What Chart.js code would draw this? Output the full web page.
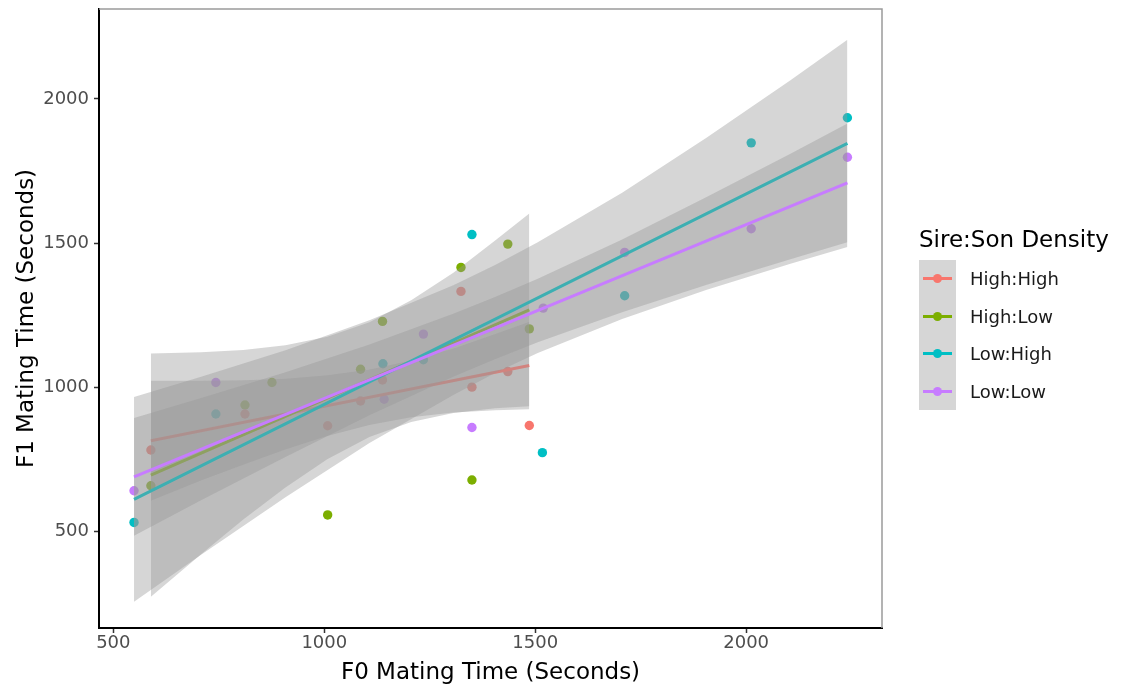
<!DOCTYPE html>
<html>
<head>
<meta charset="utf-8">
<title>F0 vs F1 mating time</title>
<script src="https://cdn.jsdelivr.net/npm/chart.js@4.4.1/dist/chart.umd.min.js"></script>
<style>
    body { margin: 0; background: #fff; font-family: "DejaVu Sans", sans-serif; }
    #wrap { position: relative; width: 1125px; height: 691px; }
    #legend { position: absolute; left: 919px; top: 226px; color: #000; }
    .ltitle { font-size: 23px; line-height: 27px; height: 27px; margin-bottom: 7px; white-space: nowrap; }
    .lrow { display: flex; align-items: center; height: 37.5px; }
    .lkey { position: relative; width: 37px; height: 37.5px; background: #d6d6d6; }
    .lline { position: absolute; left: 4px; width: 29px; top: 17.25px; height: 3px; }
    .ldot { position: absolute; left: 14px; top: 14.25px; width: 9px; height: 9px; border-radius: 50%; }
    .llabel { margin-left: 14px; font-size: 18px; color: #1a1a1a; white-space: nowrap; }
</style>
</head>
<body>
<div id="wrap">
    <canvas id="chart" width="1125" height="691"></canvas>
    <div id="legend">
        <div class="ltitle">Sire:Son Density</div>
        <div id="keys"></div>
    </div>
</div>
<script>
// groups and ggplot hue colours
const groups = ['High:High', 'High:Low', 'Low:High', 'Low:Low'];
const colors = ['#F8766D', '#7CAE00', '#00BFC4', '#C77CFF'];

const xTicks = [500, 1000, 1500, 2000];
const yTicks = [500, 1000, 1500, 2000];

// raw points
const hhX = [589, 812, 1008, 1086, 1138, 1324, 1350, 1435, 1486];
const hhY = [783, 908, 867, 953, 1026, 1333, 1001, 1055, 868];
const hlX = [589, 812, 876, 1008, 1086, 1138, 1324, 1350, 1435, 1486];
const hlY = [659, 939, 1017, 558, 1063, 1229, 1416, 679, 1497, 1203];
const lhX = [549, 743, 1139, 1235, 1350, 1517, 1712, 2012, 2240];
const lhY = [532, 908, 1082, 1096, 1530, 774, 1318, 1848, 1935];
const llX = [549, 743, 1142, 1235, 1350, 1519, 1712, 2012, 2240];
const llY = [642, 1017, 959, 1185, 861, 1275, 1468, 1550, 1798];

// fitted lines (end points)
const hhFitX = [589, 1486];
const hhFitY = [815, 1076];
const hlFitX = [589, 1486];
const hlFitY = [696, 1269];
const lhFitX = [549, 2240];
const lhFitY = [612, 1846];
const llFitX = [549, 2240];
const llFitY = [690, 1709];

// confidence bands, lower / upper edge
const highBandX = [589, 708, 808, 908, 1007, 1107, 1206, 1306, 1405, 1486];
const hhLo = [607, 677, 732, 785, 832, 870, 897, 913, 921, 924];
const hhHi = [1023, 1023, 1025, 1030, 1042, 1062, 1093, 1135, 1185, 1228];
const hlLo = [274, 422, 542, 653, 751, 828, 880, 911, 928, 935];
const hlHi = [1118, 1122, 1130, 1146, 1176, 1226, 1302, 1398, 1509, 1603];

const lowBandX = [549, 708, 908, 1107, 1307, 1406, 1506, 1706, 1905, 2105, 2240];
const lhLo = [257, 420, 619, 807, 975, 1051, 1119, 1237, 1338, 1429, 1487];
const lhHi = [967, 1037, 1129, 1233, 1355, 1425, 1503, 1675, 1865, 2065, 2205];
const llLo = [486, 609, 759, 904, 1038, 1099, 1157, 1261, 1355, 1444, 1503];
const llHi = [894, 963, 1053, 1149, 1256, 1314, 1377, 1513, 1659, 1810, 1915];

const FONT = 'DejaVu Sans';
const BAND = 'rgba(153,153,153,0.4)';

function pairs(xs, ys) {
    return xs.map((x, i) => ({ x: x, y: ys[i] }));
}

const pts = [[hhX, hhY], [hlX, hlY], [lhX, lhY], [llX, llY]];
const fits = [[hhFitX, hhFitY], [hlFitX, hlFitY], [lhFitX, lhFitY], [llFitX, llFitY]];
const bands = [[highBandX, hhLo, hhHi], [highBandX, hlLo, hlHi], [lowBandX, lhLo, lhHi], [lowBandX, llLo, llHi]];

const datasets = [];

// points go underneath everything
pts.forEach((p, g) => {
    datasets.push({
        label: groups[g],
        data: pairs(p[0], p[1]),
        backgroundColor: colors[g],
        borderWidth: 0,
        pointRadius: 4.7,
        order: 100
    });
});

// ribbon then line, group after group (like geom_smooth)
bands.forEach((b, g) => {
    datasets.push({
        type: 'line',
        data: pairs(b[0], b[1]),
        borderColor: 'rgba(0,0,0,0)',
        borderWidth: 0,
        pointRadius: 0,
        fill: false,
        order: 90 - g * 10
    });
    datasets.push({
        type: 'line',
        data: pairs(b[0], b[2]),
        borderColor: 'rgba(0,0,0,0)',
        borderWidth: 0,
        pointRadius: 0,
        backgroundColor: BAND,
        fill: '-1',
        order: 90 - g * 10
    });
    datasets.push({
        type: 'line',
        data: pairs(fits[g][0], fits[g][1]),
        borderColor: colors[g],
        borderWidth: 3,
        pointRadius: 0,
        fill: false,
        order: 85 - g * 10
    });
});

// grey top/right edge of the panel
const panelFrame = {
    id: 'panelFrame',
    afterDatasetsDraw(chart) {
        const ctx = chart.ctx;
        const a = chart.chartArea;
        ctx.save();
        ctx.strokeStyle = '#9a9a9a';
        ctx.lineWidth = 1.5;
        ctx.beginPath();
        ctx.moveTo(a.left, a.top);
        ctx.lineTo(a.right, a.top);
        ctx.lineTo(a.right, a.bottom);
        ctx.stroke();
        ctx.restore();
    }
};

function axis(min, max, ticks, title) {
    return {
        type: 'linear',
        min: min,
        max: max,
        afterBuildTicks: s => { s.ticks = ticks.map(v => ({ value: v })); },
        grid: { drawOnChartArea: false, drawTicks: true, tickLength: 5, tickColor: '#333', tickWidth: 1.5 },
        border: { display: true, color: '#000', width: 2 },
        ticks: {
            color: '#4D4D4D',
            font: { family: FONT, size: 18 },
            maxRotation: 0,
            autoSkip: false,
            callback: v => String(v)   // no thousands separator
        },
        title: { display: true, text: title, color: '#000', font: { family: FONT, size: 23 } }
    };
}

const xAxis = axis(466, 2322, xTicks, 'F0 Mating Time (Seconds)');
xAxis.afterFit = s => { s.height = 63; s.paddingLeft = 0; s.paddingRight = 0; };
xAxis.ticks.padding = 0;
xAxis.title.padding = { top: 0, bottom: 4 };

const yAxis = axis(166, 2312, yTicks, 'F1 Mating Time (Seconds)');
yAxis.afterFit = s => { s.width = 99; s.paddingTop = 0; s.paddingBottom = 0; };
yAxis.ticks.padding = 5;
yAxis.title.padding = { top: 13, bottom: 0 };

const myChart = new Chart(document.getElementById('chart').getContext('2d'), {
    type: 'scatter',
    data: { datasets: datasets },
    options: {
        responsive: false,
        animation: false,
        devicePixelRatio: 1,
        events: [],
        layout: { padding: { top: 9, right: 243, bottom: 0, left: 0 } },
        plugins: { legend: { display: false }, tooltip: { enabled: false } },
        scales: { x: xAxis, y: yAxis }
    },
    plugins: [panelFrame]
});

// html legend
const keys = document.getElementById('keys');
groups.forEach((name, g) => {
    const row = document.createElement('div');
    row.className = 'lrow';
    row.innerHTML = '<div class="lkey"><div class="lline" style="background:' + colors[g] + '"></div>' +
        '<div class="ldot" style="background:' + colors[g] + '"></div></div>' +
        '<div class="llabel">' + name + '</div>';
    keys.appendChild(row);
});
</script>
</body>
</html>
